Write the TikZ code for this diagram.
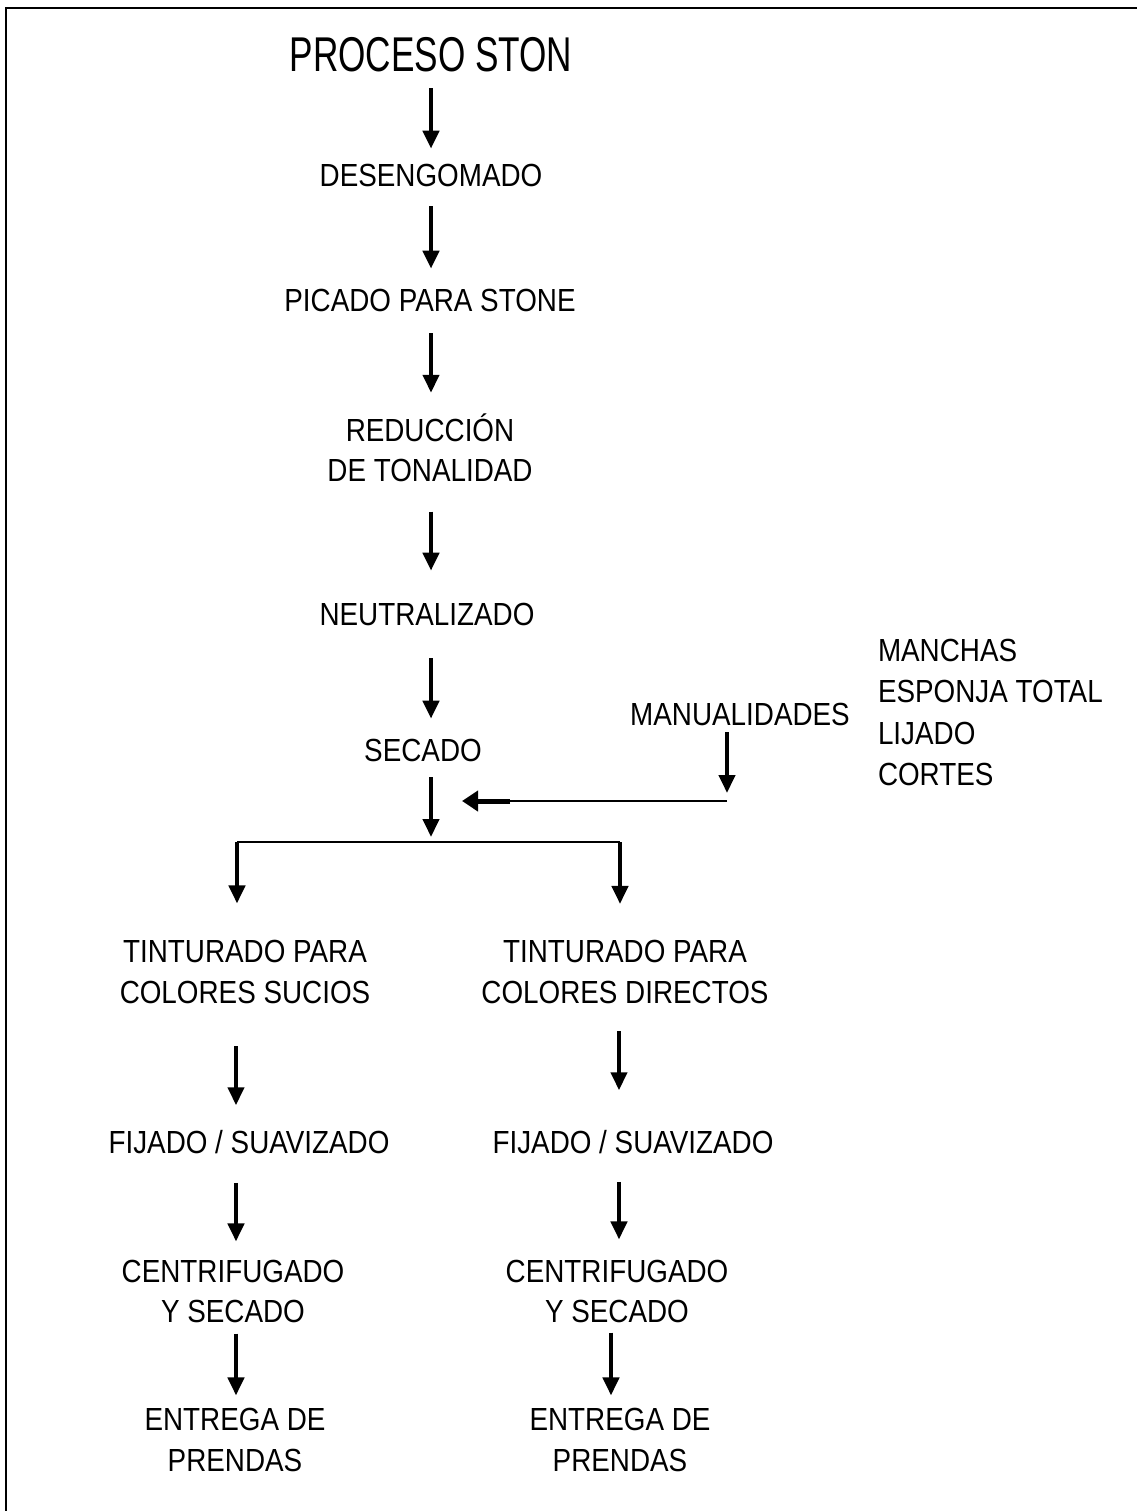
\documentclass[tikz,border=0pt]{standalone}
\usepackage{fontspec}
\setmainfont{Liberation Sans}[FakeStretch=0.87]
\newfontfamily\fuentetitulo{Liberation Sans}[FakeStretch=0.72]
\usetikzlibrary{arrows.meta}

\tikzset{
	paso/.style={inner sep=0pt, outer sep=0pt, align=center, font=\fontsize{9.1pt}{11.5pt}\selectfont},
	titulo/.style={inner sep=0pt, outer sep=0pt, font=\fuentetitulo\fontsize{13.9pt}{16pt}\selectfont},
	flecha/.style={line width=0.42mm, -{Triangle[width=1.6mm,length=1.8mm]}},
	linea/.style={line width=0.2mm},
	marco/.style={line width=0.25mm}
}

\begin{document}
\begin{tikzpicture}[x=0.1mm, y=-0.1mm]
		%%%%% START %%%%%
		\useasboundingbox (0,0) rectangle (1137,1511);
		\draw[marco] (6,1511) -- (6,8) -- (1137,8);
		
		% columna central
		\node[titulo] (tit) at (431,55) {PROCESO STON};
		\node[paso] (desen) at (431,175) {DESENGOMADO};
		\node[paso] (picado) at (430,300) {PICADO PARA STONE};
		\node[paso] (reduc) at (430,448) {REDUCCIÓN\\DE TONALIDAD};
		\node[paso] (neutr) at (427,614) {NEUTRALIZADO};
		\node[paso] (secado) at (423,750) {SECADO};
		
		\coordinate (eje) at (431,0);
		\coordinate (rama) at (431,842);
		
		\draw[flecha, shorten <=1.6mm, shorten >=1.5mm] (eje |- tit.south) -- (eje |- desen.north);
		\draw[flecha, shorten <=2mm, shorten >=2mm] (eje |- desen.south) -- (eje |- picado.north);
		\draw[flecha, shorten <=2.2mm, shorten >=2.1mm] (eje |- picado.south) -- (eje |- reduc.north);
		\draw[flecha, shorten <=2.95mm, shorten >=3.2mm] (eje |- reduc.south) -- (eje |- neutr.north);
		\draw[flecha, shorten <=3.3mm, shorten >=2mm] (eje |- neutr.south) -- (eje |- secado.north);
		\draw[flecha, shorten <=1.6mm, shorten >=0.5mm] (eje |- secado.south) -- (rama);
		
		% manualidades
		\node[paso] (manual) at (740,714) {MANUALIDADES};
		\node[paso, align=left, anchor=north west, font=\fontsize{9.1pt}{11.8pt}\selectfont] (lista) at (878,639) {MANCHAS\\ESPONJA TOTAL\\LIJADO\\CORTES};
		
		\coordinate (codo) at (727,801);
		\coordinate (llegada) at (462,801);
		
		\draw[flecha, shorten <=0.7mm, shorten >=0.8mm] (codo |- manual.south) -- (codo);
		\draw[linea] (codo) -- ([xshift=4.8mm]llegada);
		\draw[line width=0.5mm, -{Triangle[width=2mm,length=1.6mm]}] ([xshift=4.8mm]llegada) -- (llegada);
		
		% ramas
		\coordinate (ramaIzq) at (237,842);
		\coordinate (ramaDer) at (620,842);
		\coordinate (ejeIzq) at (236,0);
		\coordinate (ejeDer) at (619,0);
		\coordinate (ejeDerB) at (611,0);
		
		\draw[linea] (ramaIzq) -- (ramaDer);
		
		\node[paso] (tintS) at (245,972) {TINTURADO PARA\\COLORES SUCIOS};
		\node[paso] (fijS) at (249,1142) {FIJADO / SUAVIZADO};
		\node[paso] (centS) at (233,1291.5) {CENTRIFUGADO\\Y SECADO};
		\node[paso] (entS) at (235,1440) {ENTREGA DE\\PRENDAS};
		
		\node[paso] (tintD) at (625,972) {TINTURADO PARA\\COLORES DIRECTOS};
		\node[paso] (fijD) at (633,1142) {FIJADO / SUAVIZADO};
		\node[paso] (centD) at (617,1291.5) {CENTRIFUGADO\\Y SECADO};
		\node[paso] (entD) at (620,1440) {ENTREGA DE\\PRENDAS};
		
		\draw[flecha, shorten >=3.7mm] (ramaIzq) -- (ramaIzq |- tintS.north);
		\draw[flecha, shorten <=4.25mm, shorten >=2.5mm] (ejeIzq |- tintS.south) -- (ejeIzq |- fijS.north);
		\draw[flecha, shorten <=2.9mm, shorten >=1.85mm] (ejeIzq |- fijS.south) -- (ejeIzq |- centS.north);
		\draw[flecha, shorten <=1.05mm, shorten >=1.3mm] (ejeIzq |- centS.south) -- (ejeIzq |- entS.north);
		
		\draw[flecha, shorten >=3.65mm] (ramaDer) -- (ramaDer |- tintD.north);
		\draw[flecha, shorten <=2.75mm, shorten >=4mm] (ejeDer |- tintD.south) -- (ejeDer |- fijD.north);
		\draw[flecha, shorten <=2.8mm, shorten >=2.05mm] (ejeDer |- fijD.south) -- (ejeDer |- centD.north);
		\draw[flecha, shorten <=0.95mm, shorten >=1.3mm] (ejeDerB |- centD.south) -- (ejeDerB |- entD.north);
		%%%%% END %%%%%
	\end{tikzpicture}
\end{document}
